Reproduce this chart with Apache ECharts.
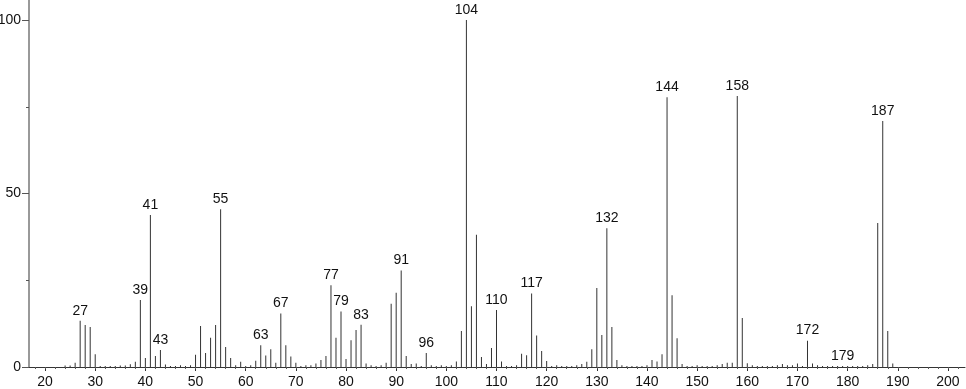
<!DOCTYPE html>
<html>
<head>
<meta charset="utf-8">
<script src="https://cdn.jsdelivr.net/npm/echarts@6/dist/echarts.min.js"></script>
<style>html,body{margin:0;padding:0;background:#fff}#c{width:966px;height:389px}</style>
</head>
<body>
<div id="c"></div>
<script>
const mz = [24,25,26,27,28,29,30,31,32,33,34,35,36,37,38,39,40,41,42,43,44,45,46,47,48,49,50,51,52,53,54,55,56,57,58,59,60,61,62,63,64,65,66,67,68,69,70,71,72,73,74,75,76,77,78,79,80,81,82,83,84,85,86,87,88,89,90,91,92,93,94,95,96,97,98,99,100,101,102,103,104,105,106,107,108,109,110,111,112,113,114,115,116,117,118,119,120,121,122,123,124,125,126,127,128,129,130,131,132,133,134,135,136,137,138,139,140,141,142,143,144,145,146,147,148,149,150,151,152,153,154,155,156,157,158,159,160,161,162,163,164,165,166,167,168,169,170,171,172,173,174,175,176,177,178,179,180,181,182,183,184,185,186,187,188,189];
const intensity = [0.4,0.4,1.2,13.3,12.1,11.5,3.7,0.3,0.3,0.3,0.3,0.4,0.4,0.8,1.5,19.3,2.6,43.8,3.2,4.9,0.7,0.3,0.3,0.5,0.3,0.5,3.5,11.8,4,8.4,12.1,45.5,5.8,2.6,0.5,1.5,0.3,0.5,1.8,6.3,3.3,5.1,1.2,15.4,6.3,3,1.2,0.3,0.5,0.5,1,2,3.2,23.6,8.4,16,2.3,7.7,10.7,12.2,1,0.5,0.3,0.5,1.2,18.2,21.4,27.8,3.2,0.9,1,0.3,4,0.5,0.3,0.5,0.3,0.5,1.6,10.4,100,17.5,38.1,2.9,0.9,5.5,16.4,1.6,0.3,0.3,0.5,3.8,3.4,21.2,9.1,4.6,1.7,0.3,0.5,0.3,0.3,0.3,0.5,0.9,1.5,5.1,22.8,9.2,40,11.5,2,0.5,0.3,0.3,0.3,0.3,0.5,2,1.6,3.7,77.8,20.7,8.3,0.9,0.3,0.3,0.5,0.3,0.3,0.3,0.5,0.9,1.2,1.2,78.1,14.1,1.1,0.5,0.3,0.3,0.3,0.3,0.5,0.9,0.5,0.5,1,0.3,7.6,1,0.5,0.3,0.3,0.3,0.3,0.3,0.3,0.3,0.3,0.3,0.5,0.9,41.5,70.9,10.4,1];
const labeledPeaks = [27,39,41,43,55,63,67,77,79,83,91,96,104,110,117,132,144,158,172,179,187];
const xTickLabels = [20,30,40,50,60,70,80,90,100,110,120,130,140,150,160,170,180,190,200];
const xMinorTicks = [];
for (let v = 18; v <= 202; v += 2) xMinorTicks.push(v);
const yTickLabels = [0,50,100];
const yMinorTicks = [25,75];

const FONT = 'Liberation Sans';
const data = mz.map((m, i) => {
  const item = { value: [m, intensity[i]] };
  if (labeledPeaks.includes(m)) item.label = { show: true };
  return item;
});

const chart = echarts.init(document.getElementById('c'), null, { renderer: 'canvas' });
const XMIN = 16.8, XMAX = 203.4, YMAX = 105.8;
chart.setOption({
  animation: false,
  backgroundColor: '#fff',
  grid: { left: 29, right: 1, top: 0, bottom: 22, containLabel: false, outerBoundsMode: 'none' },
  xAxis: [
    {
      type: 'value', min: XMIN, max: XMAX,
      axisLine: { show: true, lineStyle: { color: '#333', width: 1 } },
      axisTick: { show: true, length: 4, lineStyle: { color: '#333' }, customValues: xTickLabels },
      axisLabel: { show: true, customValues: xTickLabels, fontFamily: FONT, fontSize: 14, color: '#111', margin: 8 },
      splitLine: { show: false }
    },
    {
      type: 'value', min: XMIN, max: XMAX, position: 'bottom',
      axisLine: { show: false },
      axisTick: { show: true, length: 2, lineStyle: { color: '#555' }, customValues: xMinorTicks },
      axisLabel: { show: false },
      splitLine: { show: false }
    }
  ],
  yAxis: [
    {
      type: 'value', min: 0, max: YMAX,
      axisLine: { show: true, lineStyle: { color: '#999', width: 2 } },
      axisTick: { show: true, length: 7, lineStyle: { color: '#555' }, customValues: yTickLabels },
      axisLabel: { show: true, customValues: yTickLabels, fontFamily: FONT, fontSize: 14, color: '#111', margin: 8 },
      splitLine: { show: false }
    },
    {
      type: 'value', min: 0, max: YMAX, position: 'left',
      axisLine: { show: false },
      axisTick: { show: true, length: 3, lineStyle: { color: '#555' }, customValues: yMinorTicks },
      axisLabel: { show: false },
      splitLine: { show: false }
    }
  ],
  series: [{
    type: 'bar',
    xAxisIndex: 0, yAxisIndex: 0,
    barWidth: 1,
    itemStyle: { color: '#333' },
    label: { show: false, position: 'top', distance: 3, fontFamily: FONT, fontSize: 14, color: '#111',
      formatter: p => String(p.value[0]) },
    data: data
  }]
});
</script>
</body>
</html>
